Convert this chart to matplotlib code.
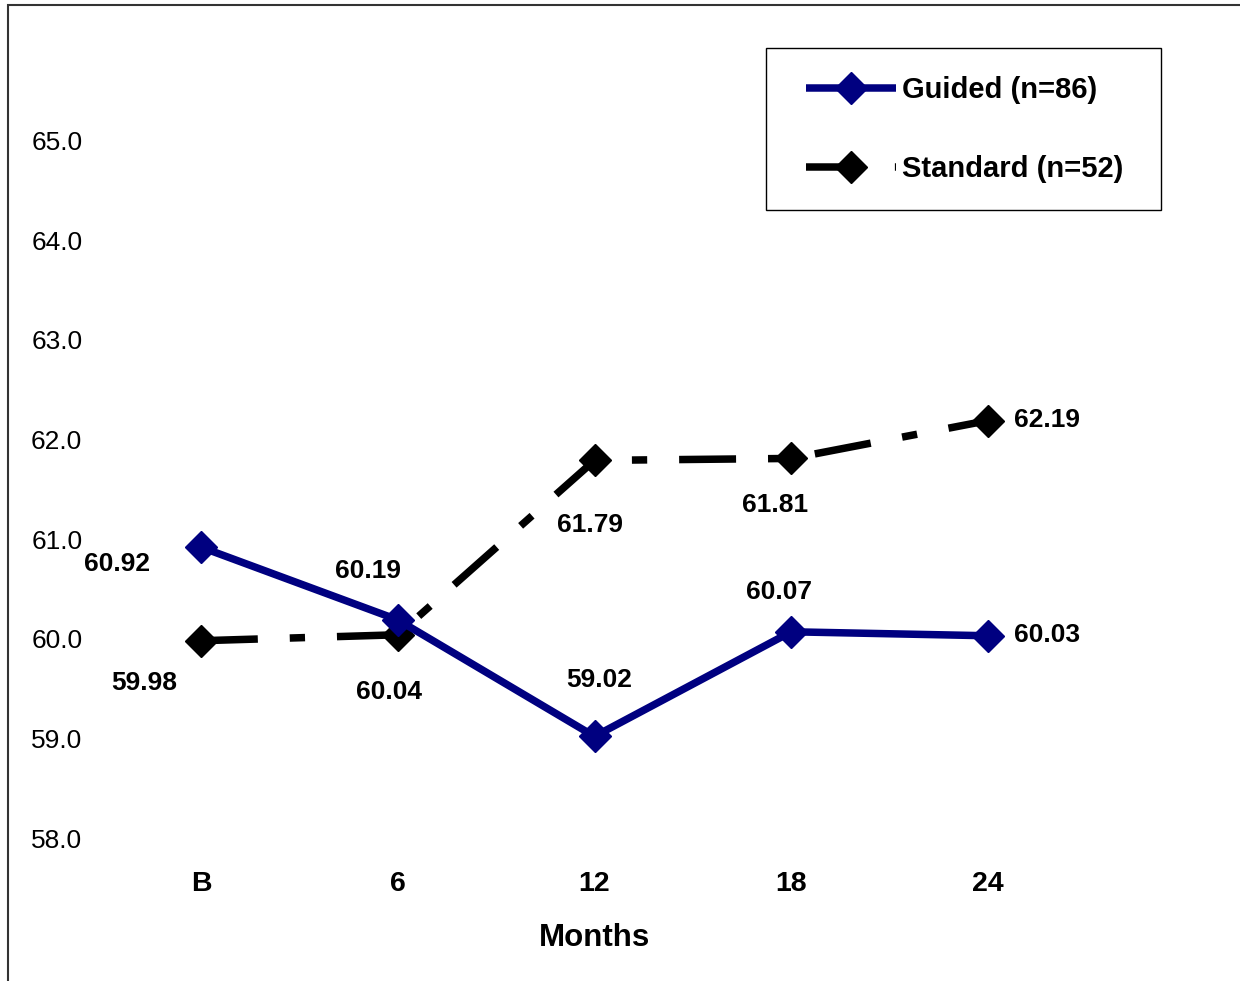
import matplotlib
matplotlib.use("Agg")
import matplotlib.pyplot as plt
from matplotlib.patches import Rectangle
from matplotlib.legend_handler import HandlerLine2D

plt.rcParams['font.family'] = ['Liberation Sans', 'DejaVu Sans']
plt.rcParams['lines.scale_dashes'] = False

# data
months = ['B', '6', '12', '18', '24']
guided = [60.92, 60.19, 59.02, 60.07, 60.03]
standard = [59.98, 60.04, 61.79, 61.81, 62.19]
yticks = [58.0, 59.0, 60.0, 61.0, 62.0, 63.0, 64.0, 65.0]

# label offsets (pixels, x right / y down) for the value labels
guided_off = [(-84, 17), (-30, -49), (5, -56), (-12, -40), (59, -1)]
standard_off = [(-57, 42), (-9, 57), (-5, 65), (-16, 47), (59, -1)]

fig = plt.figure(figsize=(12.4, 9.81), dpi=100)
ax = fig.add_axes([102.5 / 1240, 1 - 838 / 981, 984 / 1240, 797 / 981])

x = list(range(len(months)))
lw = 5.4
ax.plot(x, guided, color='#000080', lw=lw, marker='D', ms=16.5,
        mew=1, solid_capstyle='butt', label='Guided (n=86)', zorder=3)
ax.plot(x, standard, color='black', lw=lw, marker='D', ms=16.5, mew=1,
        dashes=(41, 23, 11, 23), dash_capstyle='butt',
        label='Standard (n=52)', zorder=2)

for xi, v, (dx, dy) in zip(x, guided, guided_off):
    ax.annotate('%.2f' % v, (xi, v), xytext=(dx, -dy), textcoords='offset pixels',
                ha='center', va='center', fontsize=19, fontweight='bold')
for xi, v, (dx, dy) in zip(x, standard, standard_off):
    ax.annotate('%.2f' % v, (xi, v), xytext=(dx, -dy), textcoords='offset pixels',
                ha='center', va='center', fontsize=19, fontweight='bold')

ax.set_xlim(-0.5, len(months) - 0.5)
ax.set_ylim(58, 66)
ax.set_yticks(yticks)
ax.set_yticklabels(['%.1f' % t for t in yticks], fontsize=19)
ax.set_xticks(x)
ax.set_xticklabels(months, fontsize=20.5, fontweight='bold')
ax.tick_params(axis='y', length=0, pad=14.5)
ax.tick_params(axis='x', length=0, pad=23.5)
ax.set_xlabel('Months', fontsize=22.5, fontweight='bold', labelpad=19)
for s in ax.spines.values():
    s.set_visible(False)

leg = ax.legend(loc='upper left',
                bbox_to_anchor=(766 / 1240, 1 - 207 / 981, 395 / 1240, 159 / 981),
                bbox_transform=fig.transFigure, mode='expand', borderaxespad=0,
                fancybox=False, prop={'size': 21, 'weight': 'bold'},
                handlelength=3.5, handletextpad=0.2, borderpad=0.95,
                labelspacing=1.75, framealpha=1,
                handler_map={matplotlib.lines.Line2D: HandlerLine2D(xpad=0.43)})
leg.get_frame().set_edgecolor('black')
leg.get_frame().set_linewidth(1)

# outer border of the chart area
fig.patches.append(Rectangle((7.5 / 1240, -0.1), 2, 1.1 - 4.5 / 981,
                             transform=fig.transFigure, fill=False,
                             edgecolor='#333333', lw=1.5))

fig.savefig('out.png', dpi=100)
